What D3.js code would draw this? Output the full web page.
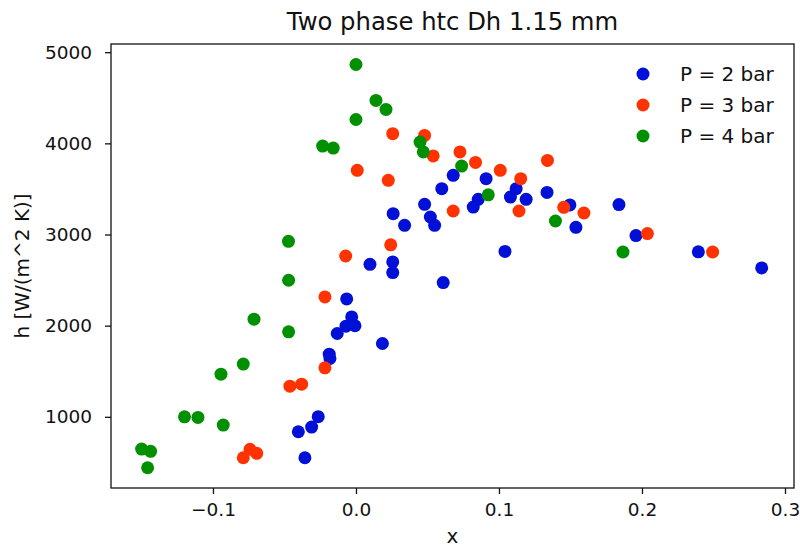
<!DOCTYPE html>
<html>
<head>
<meta charset="utf-8">
<script src="https://cdn.jsdelivr.net/npm/d3@7"></script>
<style>
  body { margin: 0; background: #fff; }
  text { font-family: "DejaVu Sans", sans-serif; fill: #111; }
</style>
</head>
<body>
<div id="chart"></div>
<script>
// two phase heat transfer coefficient vs vapour quality

const width = 800,
    height = 549,
    margin = ({ top: 44, right: 6, bottom: 61, left: 111 });

// P = 2 bar
const x2 = [0.068, 0.060, 0.091, 0.048, 0.052, 0.055, 0.034, 0.026, 0.082, 0.0855, 0.108, 0.112, 0.119,
    0.1336, 0.1496, 0.1538, 0.1839, 0.1958, 0.1042, 0.2394, 0.2837, 0.061, 0.0098, 0.0257, 0.0257,
    -0.0065, -0.003, -0.007, -0.0007, -0.0131, 0.0185, -0.0187, -0.0182, -0.0264, -0.031, -0.0403, -0.0357];
const h2 = [3649, 3503, 3613, 3331, 3192, 3101, 3101, 3229, 3301, 3386, 3411, 3503, 3386,
    3462, 3325, 3079, 3328, 2988, 2814, 2810, 2633, 2473, 2673, 2699, 2582,
    2293, 2096, 1994, 1999, 1914, 1804, 1687, 1640, 1002, 887, 836, 551];

// P = 3 bar
const x3 = [0.0257, 0.048, 0.054, 0.0727, 0.0836, 0.1009, 0.1152, 0.1339, 0.0009, 0.0226, 0.068, 0.114,
    0.1453, 0.1594, 0.2038, 0.2494, 0.0243, -0.0072, -0.0217, -0.0217, -0.0462, -0.038, -0.0788, -0.0741, -0.0694];
const h3 = [4106, 4087, 3862, 3906, 3791, 3704, 3613, 3813, 3704, 3594, 3258, 3258,
    3298, 3236, 3010, 2808, 2887, 2764, 2315, 1537, 1336, 1358, 551, 643, 599];

// P = 4 bar
const x4 = [0.0, 0.014, 0.021, 0.0, -0.0233, -0.0159, 0.0448, 0.0471, 0.0739, 0.0925, 0.1395, 0.1867,
    -0.0472, -0.0471, -0.0713, -0.0471, -0.0788, -0.0944, -0.1199, -0.1105, -0.0928, -0.1499, -0.1436, -0.1457];
const h4 = [4865, 4471, 4372, 4262, 3970, 3948, 4014, 3906, 3751, 3435, 3148, 2808,
    2925, 2498, 2071, 1932, 1578, 1468, 1000, 993, 909, 646, 621, 441];

const seriesNames = ["P = 2 bar", "P = 3 bar", "P = 4 bar"];
const colors = ["#0010d6", "#ff3300", "#009000"];
const xTicks = [-0.1, 0.0, 0.1, 0.2, 0.3];
const yTicks = [1000, 2000, 3000, 4000, 5000];

const series = [[x2, h2], [x3, h3], [x4, h4]].map(([xs, hs], i) => ({
    name: seriesNames[i],
    color: colors[i],
    points: xs.map((v, j) => ({ x: v, h: hs[j] }))
}));

let svg = d3.select("#chart")
    .append("svg")
    .attr("width", width)
    .attr("height", height);

let x = d3.scaleLinear()
    .domain([-0.1713, 0.3063])
    .range([margin.left, width - margin.right]);

let y = d3.scaleLinear()
    .domain([219, 5090])
    .range([height - margin.bottom, margin.top]);

// axes
let xAxis = svg.append("g")
    .attr("transform", `translate(0,${height - margin.bottom})`)
    .call(d3.axisBottom(x).tickValues(xTicks).tickSize(6).tickPadding(9).tickSizeOuter(0)
        .tickFormat(d3.format(".1f")));

let yAxis = svg.append("g")
    .attr("transform", `translate(${margin.left},0)`)
    .call(d3.axisLeft(y).tickValues(yTicks).tickSize(6).tickPadding(13).tickSizeOuter(0)
        .tickFormat(d3.format("d")));

[xAxis, yAxis].forEach(g => {
    g.select(".domain").remove();
    g.selectAll(".tick line").attr("stroke", "#111").attr("stroke-width", 1.3);
    g.selectAll(".tick text").attr("font-size", 18.5).attr("font-family", "DejaVu Sans").attr("fill", "#111");
});

// frame
svg.append("rect")
    .attr("x", margin.left)
    .attr("y", margin.top)
    .attr("width", width - margin.left - margin.right)
    .attr("height", height - margin.top - margin.bottom)
    .attr("fill", "none")
    .attr("stroke", "#111")
    .attr("stroke-width", 1.3);

// points, blue first so green sits on top
series.forEach(s => {
    svg.append("g")
        .selectAll("circle")
        .data(s.points)
        .join("circle")
        .attr("cx", d => x(d.x))
        .attr("cy", d => y(d.h))
        .attr("r", 6.5)
        .attr("fill", s.color);
});

// labels
svg.append("text")
    .attr("x", (margin.left + width - margin.right) / 2)
    .attr("y", 30)
    .attr("text-anchor", "middle")
    .attr("font-size", 24.3)
    .text("Two phase htc Dh 1.15 mm");

svg.append("text")
    .attr("x", (margin.left + width - margin.right) / 2)
    .attr("y", 543)
    .attr("text-anchor", "middle")
    .attr("font-size", 20)
    .text("x");

svg.append("text")
    .attr("transform", `translate(29,${(margin.top + height - margin.bottom) / 2}) rotate(-90)`)
    .attr("text-anchor", "middle")
    .attr("font-size", 20)
    .text("h [W/(m^2 K)]");

// legend
let legend = svg.append("g")
    .selectAll("g")
    .data(series)
    .join("g")
    .attr("transform", (d, i) => `translate(643,${74 + i * 31})`);

legend.append("circle")
    .attr("r", 6.5)
    .attr("fill", d => d.color);

legend.append("text")
    .attr("x", 37)
    .attr("dy", "0.35em")
    .attr("font-size", 20)
    .text(d => d.name);
</script>
</body>
</html>
